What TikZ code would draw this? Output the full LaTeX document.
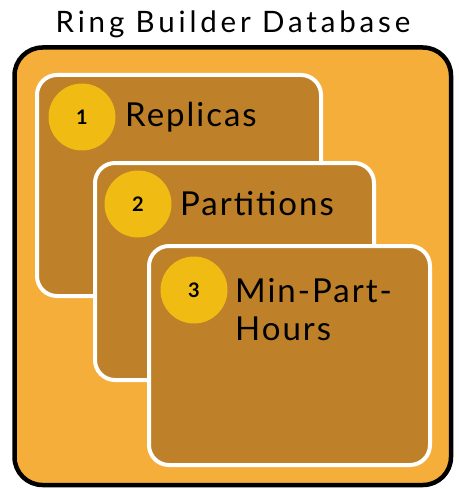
\documentclass[tikz,border=0pt]{standalone}
\usepackage{fontspec}
\setmainfont{Lato}[LetterSpace=6]
\newfontfamily\numfont{Lato}[LetterSpace=0]
\newfontfamily\titlefont{Lato}[LetterSpace=13]
\definecolor{panelorange}{HTML}{F6AE3B}
\definecolor{cardbrown}{HTML}{BE8028}
\definecolor{badgegold}{HTML}{F0BB12}
\tikzset{
  panel/.style={draw=black, line width=4.5pt, fill=panelorange, rounded corners=28pt},
  card/.style={draw=white, line width=4pt, fill=cardbrown, rounded corners=20pt},
  badge/.style={circle, fill=badgegold, minimum size=67pt, inner sep=0pt,
    font=\numfont\bfseries\fontsize{20}{20}\selectfont},
  cardlabel/.style={anchor=base west, inner sep=0pt, align=left,
    font=\fontsize{33}{38}\selectfont},
}
\begin{document}
\begin{tikzpicture}[x=1pt, y=-1pt]
  \useasboundingbox (0,0) rectangle (458,489);
  % title
  \node[anchor=base, inner sep=0pt, font=\titlefont\fontsize{29.5}{30}\selectfont] (title) at (233,33) {Ring Builder Database};
  % outer panel
  \draw[panel] (14.5,47.5) rectangle (451,485);
  % stacked cards
  \draw[card] (37,75) rectangle (321,296);
  \node[badge] (b1) at (82,117) {1};
  \node[cardlabel] (l1) at (125,127) {Replicas};
  \draw[card] (95,163) rectangle (374,380);
  \node[badge] (b2) at (138,204) {2};
  \node[cardlabel] (l2) at (180,215) {Partitions};
  \draw[card] (149,246) rectangle (430,465);
  \node[badge] (b3) at (194,290) {3};
  \node[cardlabel, anchor=north west] (l3) at (235,278) {Min-Part-\\Hours};
\end{tikzpicture}
\end{document}
